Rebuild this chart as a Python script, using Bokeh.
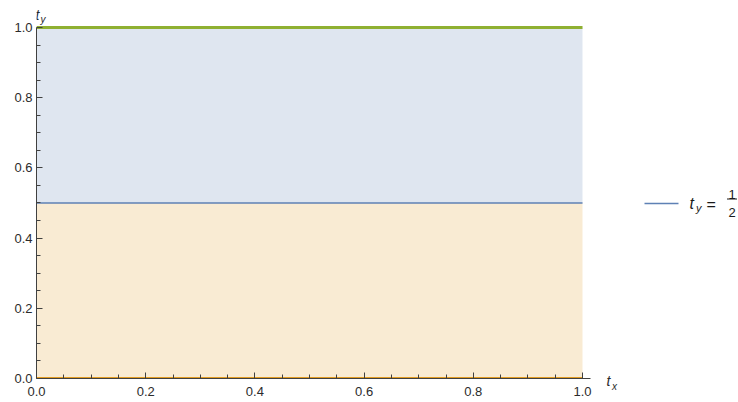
from bokeh.plotting import figure
from bokeh.models import Range1d, Label, FixedTicker, PrintfTickFormatter
from bokeh.layouts import row, column
from bokeh.embed import file_html
from bokeh.resources import INLINE

# parameter domain and the three constant curves t_y = 0, 1/2, 1
x_span = [0.0, 1.0]
ty_low = [0.0, 0.0]
ty_mid = [0.5, 0.5]
ty_high = [1.0, 1.0]

tick_values = [0.0, 0.2, 0.4, 0.6, 0.8, 1.0]
tick_labels = ["0.0", "0.2", "0.4", "0.6", "0.8", "1.0"]
minor_values = [0.05, 0.1, 0.15, 0.25, 0.3, 0.35, 0.45, 0.5, 0.55, 0.65,
                0.7, 0.75, 0.85, 0.9, 0.95]

BLUE = "#5E81B5"
ORANGE = "#E19C24"
GREEN = "#8FB032"
AXIS = "#404040"
TEXT = "#2b2b2b"
INK = "#1a1a1a"
FONT = "Liberation Sans"

# 546 px per unit horizontally, 351 px per unit vertically; the frame
# reaches the top of the canvas so the axis name fits inside it
p = figure(width=600, height=402,
           x_range=Range1d(0, 1.01465), y_range=Range1d(0, 1.0769),
           output_backend="svg", toolbar_location=None,
           min_border_left=36, min_border_right=10,
           min_border_top=0, min_border_bottom=24)
p.outline_line_color = None
p.grid.visible = False

for ax in (p.xaxis[0], p.yaxis[0]):
    ax.ticker = FixedTicker(ticks=tick_values, minor_ticks=minor_values)
    ax.formatter = PrintfTickFormatter(format="%.1f")
    ax.major_label_overrides = dict(zip(tick_values, tick_labels))
    ax.axis_line_color = AXIS
    ax.major_tick_line_color = AXIS
    ax.minor_tick_line_color = AXIS
    ax.major_tick_in = 6
    ax.major_tick_out = 0
    ax.minor_tick_in = 4
    ax.minor_tick_out = 0
    ax.major_label_text_font = FONT
    ax.major_label_text_font_size = "13px"
    ax.major_label_text_color = TEXT
p.xaxis[0].major_label_standoff = 8
p.yaxis[0].major_label_standoff = 4
# vertical axis line stops at t_y = 1
p.yaxis[0].bounds = (0, 1)

# shaded bands below and above t_y = 1/2
p.varea(x=x_span, y1=ty_low, y2=ty_mid, fill_color=ORANGE, fill_alpha=0.2)
p.varea(x=x_span, y1=ty_mid, y2=ty_high, fill_color=BLUE, fill_alpha=0.2)

p.line(x_span, ty_mid, line_color=BLUE, line_width=1.5)
p.line(x_span, ty_high, line_color=GREEN, line_width=3)
p.line(x_span, ty_low, line_color=ORANGE, line_width=3)


def add_label(fig, x, y, text, size, italic=False, align="left", color=TEXT):
    fig.add_layout(Label(x=x, y=y, text=text, text_font=FONT,
                         text_font_size=size, text_color=color,
                         text_font_style="italic" if italic else "normal",
                         text_align=align, text_baseline="alphabetic"))


def dx(px):
    return (px - 36) / 546.0


def dy(py):
    return (378 - py) / 351.0


# vertical axis name t_y
add_label(p, dx(35), dy(15), "t", "14px", italic=True)
add_label(p, dx(40), dy(19), "y", "10px", italic=True)

# right panel (data units are canvas pixels): t_x and the legend
lg = figure(width=138, height=402,
            x_range=Range1d(600, 738), y_range=Range1d(402, 0),
            output_backend="svg", toolbar_location=None, min_border=0,
            x_axis_type=None, y_axis_type=None)
lg.outline_line_color = None
lg.grid.visible = False

add_label(lg, 606, 380, "t", "14px", italic=True)
add_label(lg, 611.5, 385.5, "x", "10px", italic=True)

lg.line([644, 678], [203, 203], line_color=BLUE, line_width=1.5)
add_label(lg, 689, 203, "t", "16px", italic=True, color=INK)
add_label(lg, 695.5, 207, "y", "11px", italic=True, color=INK)
add_label(lg, 706, 204, "=", "16px", color=INK)
add_label(lg, 731.5, 194, "1", "13px", align="center", color=INK)
lg.line([726.5, 736.5], [198.5, 198.5], line_color=INK, line_width=1)
add_label(lg, 731.5, 212, "2", "13px", align="center", color=INK)

layout = row(column(p, spacing=0), lg, spacing=0)

with open("out.html", "w") as f:
    f.write(file_html(layout, INLINE))
